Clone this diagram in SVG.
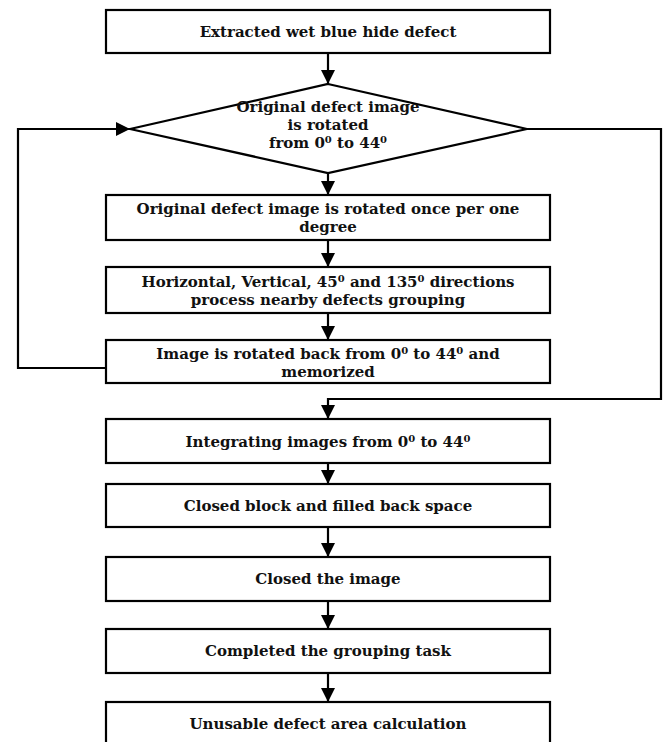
<svg xmlns="http://www.w3.org/2000/svg" width="664" height="742" viewBox="0 0 664 742">
<defs>
<style>
.box{fill:#fff;stroke:#000;stroke-width:2.2}
.t{font-family:"DejaVu Serif","Liberation Serif",serif;font-size:15px;font-weight:bold;fill:#111;text-anchor:middle}
.sup{font-size:10px}
.ln{fill:none;stroke:#000;stroke-width:2.2}
</style>
<marker id="ah" viewBox="0 0 14 14" refX="14" refY="7" markerWidth="14" markerHeight="14" markerUnits="userSpaceOnUse" orient="auto">
<path d="M0,0 L14,7 L0,14 Z" fill="#000"/>
</marker>
</defs>
<rect width="664" height="742" fill="#fff"/>
<g id="connectors">
<line class="ln" x1="328" y1="53" x2="328" y2="84" marker-end="url(#ah)"/>
<line class="ln" x1="328" y1="173" x2="328" y2="195" marker-end="url(#ah)"/>
<line class="ln" x1="328" y1="240" x2="328" y2="267" marker-end="url(#ah)"/>
<line class="ln" x1="328" y1="313" x2="328" y2="340" marker-end="url(#ah)"/>
<polyline class="ln" points="106,368 18,368 18,129 130,129" marker-end="url(#ah)"/>
<polyline class="ln" points="527,129 661,129 661,399 328,399 328,419" marker-end="url(#ah)"/>
<line class="ln" x1="328" y1="463" x2="328" y2="484" marker-end="url(#ah)"/>
<line class="ln" x1="328" y1="527" x2="328" y2="557" marker-end="url(#ah)"/>
<line class="ln" x1="328" y1="601" x2="328" y2="629" marker-end="url(#ah)"/>
<line class="ln" x1="328" y1="673" x2="328" y2="702" marker-end="url(#ah)"/>
</g>
<g id="n1">
<rect class="box" x="106" y="10" width="444" height="43"/>
<text class="t" x="328" y="37">Extracted wet blue hide defect</text>
</g>
<g id="n2">
<polygon class="box" points="328,84 527,129 328,173 130,129"/>
<text class="t" x="328" y="112">Original defect image</text>
<text class="t" x="328" y="130">is rotated</text>
<text class="t" x="328" y="148">from 0<tspan class="sup" dy="-5">0</tspan><tspan dy="5"> to 44</tspan><tspan class="sup" dy="-5">0</tspan></text>
</g>
<g id="n3">
<rect class="box" x="106" y="195" width="444" height="45"/>
<text class="t" x="328" y="214">Original defect image is rotated once per one</text>
<text class="t" x="328" y="232">degree</text>
</g>
<g id="n4">
<rect class="box" x="106" y="267" width="444" height="46"/>
<text class="t" x="328" y="287">Horizontal, Vertical, 45<tspan class="sup" dy="-5">0</tspan><tspan dy="5"> and 135</tspan><tspan class="sup" dy="-5">0</tspan><tspan dy="5"> directions</tspan></text>
<text class="t" x="328" y="305">process nearby defects grouping</text>
</g>
<g id="n5">
<rect class="box" x="106" y="340" width="444" height="43"/>
<text class="t" x="328" y="359">Image is rotated back from 0<tspan class="sup" dy="-5">0</tspan><tspan dy="5"> to 44</tspan><tspan class="sup" dy="-5">0</tspan><tspan dy="5"> and</tspan></text>
<text class="t" x="328" y="377">memorized</text>
</g>
<g id="n6">
<rect class="box" x="106" y="419" width="444" height="44"/>
<text class="t" x="328" y="447">Integrating images from 0<tspan class="sup" dy="-5">0</tspan><tspan dy="5"> to 44</tspan><tspan class="sup" dy="-5">0</tspan></text>
</g>
<g id="n7">
<rect class="box" x="106" y="484" width="444" height="43"/>
<text class="t" x="328" y="511">Closed block and filled back space</text>
</g>
<g id="n8">
<rect class="box" x="106" y="557" width="444" height="44"/>
<text class="t" x="328" y="584">Closed the image</text>
</g>
<g id="n9">
<rect class="box" x="106" y="629" width="444" height="44"/>
<text class="t" x="328" y="656">Completed the grouping task</text>
</g>
<g id="n10">
<rect class="box" x="106" y="702" width="444" height="50"/>
<text class="t" x="328" y="729">Unusable defect area calculation</text>
</g>
</svg>
